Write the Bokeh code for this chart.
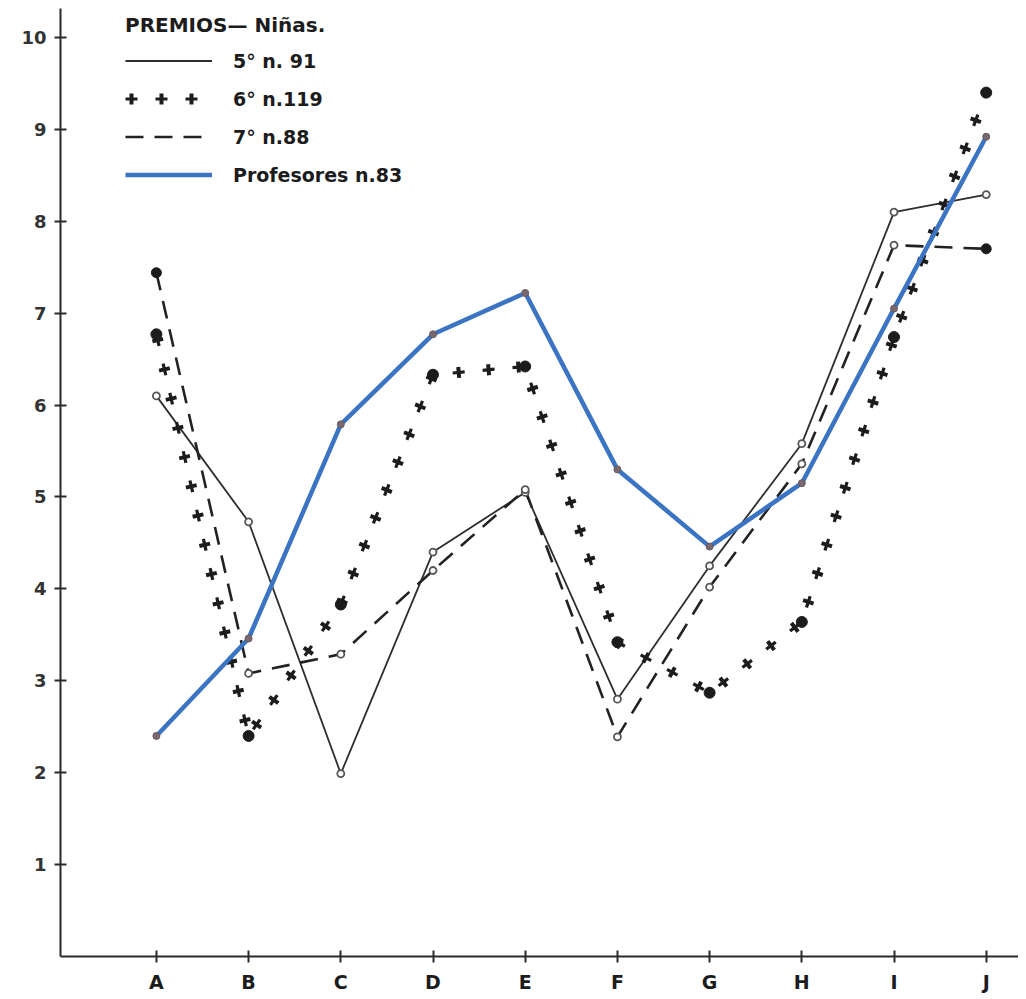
from bokeh.plotting import figure
from bokeh.models import Range1d, FixedTicker, Legend, LegendItem
from bokeh.embed import file_html
from bokeh.resources import INLINE

# ---- data ----
categories = ["A", "B", "C", "D", "E", "F", "G", "H", "I", "J"]
quinto_n91 = [6.10, 4.73, 1.99, 4.40, 5.05, 2.80, 4.25, 5.58, 8.10, 8.29]
sexto_n119 = [6.77, 2.40, 3.83, 6.33, 6.42, 3.42, 2.87, 3.64, 6.74, 9.40]
septimo_n88 = [7.44, 3.08, 3.29, 4.20, 5.08, 2.39, 4.02, 5.36, 7.74, 7.70]
profesores_n83 = [2.40, 3.46, 5.79, 6.77, 7.22, 5.30, 4.46, 5.15, 7.05, 8.92]
y_ticks = [1, 2, 3, 4, 5, 6, 7, 8, 9, 10]

legend_title = "PREMIOS\u2014 Niñas."
labels = ["5° n. 91", "6° n.119", "7° n.88", "Profesores n.83"]

xs = list(range(1, len(categories) + 1))

INK = "#1c1c1c"
BLUE = "#3a74c2"
FONT = "DejaVu Sans"

p = figure(width=1018, height=995,
           x_range=Range1d(-0.04, 10.35), y_range=Range1d(0, 10.315),
           output_backend="svg", toolbar_location=None,
           min_border_left=60, min_border_right=0, min_border_top=8,
           min_border_bottom=38)
p.xgrid.visible = False
p.ygrid.visible = False
p.outline_line_color = None
p.background_fill_color = "white"
p.border_fill_color = "white"

for ax in (p.xaxis[0], p.yaxis[0]):
    ax.axis_line_color = "#2a2a2a"
    ax.axis_line_width = 2
    ax.major_tick_line_color = "#2a2a2a"
    ax.major_tick_line_width = 2
    ax.major_tick_in = 6
    ax.major_tick_out = 6
    ax.minor_tick_line_color = None
    ax.major_label_text_font = FONT
    ax.major_label_text_font_style = "bold"
    ax.major_label_text_color = INK
    ax.major_label_standoff = 8

p.xaxis.ticker = FixedTicker(ticks=xs)
p.xaxis.major_label_overrides = {x: c for x, c in zip(xs, categories)}
p.xaxis.major_label_text_font_size = "19px"
p.yaxis.ticker = FixedTicker(ticks=y_ticks)
p.yaxis.major_label_text_font_size = "18px"
p.yaxis.major_label_text_color = "#333333"

# 5° : thin solid line, small hollow circles
r5 = p.line(xs, quinto_n91, line_color="#2e2e2e", line_width=1.8)

# 7° : dashed line
r7 = p.line(xs, septimo_n88, line_color="#222222", line_width=2.6,
            line_dash="18 11")

# 6° : row of crosses (two dashed strokes on the same path make "+" marks)
r6a = p.line(xs, sexto_n119, line_color=INK, line_width=3.2,
             line_dash="12 18")
r6b = p.line(xs, sexto_n119, line_color=INK, line_width=11,
             line_dash="4 26", line_dash_offset=26)

# Profesores : thick blue line
rP = p.line(xs, profesores_n83, line_color=BLUE, line_width=4.5)

# point markers
p.scatter(xs, quinto_n91, marker="circle", size=7, fill_color="white",
          line_color="#555555", line_width=1.8)
p.scatter(xs[1:-1], septimo_n88[1:-1], marker="circle", size=7,
          fill_color="white", line_color="#555555", line_width=1.8)
p.scatter([xs[0], xs[-1]], [septimo_n88[0], septimo_n88[-1]],
          marker="circle", size=10, color=INK)
p.scatter(xs, sexto_n119, marker="circle", size=11, color=INK)
p.scatter(xs, profesores_n83, marker="circle", size=7,
          fill_color="#7a6870", line_color="#6a5a62")

legend = Legend(
    items=[LegendItem(label=labels[0], renderers=[r5]),
           LegendItem(label=labels[1], renderers=[r6a, r6b]),
           LegendItem(label=labels[2], renderers=[r7]),
           LegendItem(label=labels[3], renderers=[rP])],
    title=legend_title,
    location=(65, 770),
    orientation="vertical",
    glyph_width=87, glyph_height=23, label_height=23,
    label_standoff=21, spacing=15, padding=0, margin=0,
    border_line_color=None, background_fill_alpha=0,
    label_text_font=FONT, label_text_font_style="bold",
    label_text_font_size="19px", label_text_color=INK,
    title_text_font=FONT, title_text_font_style="bold",
    title_text_font_size="20px", title_text_color=INK,
    title_standoff=12,
)
p.add_layout(legend)

open("out.html", "w").write(file_html(p, INLINE))
